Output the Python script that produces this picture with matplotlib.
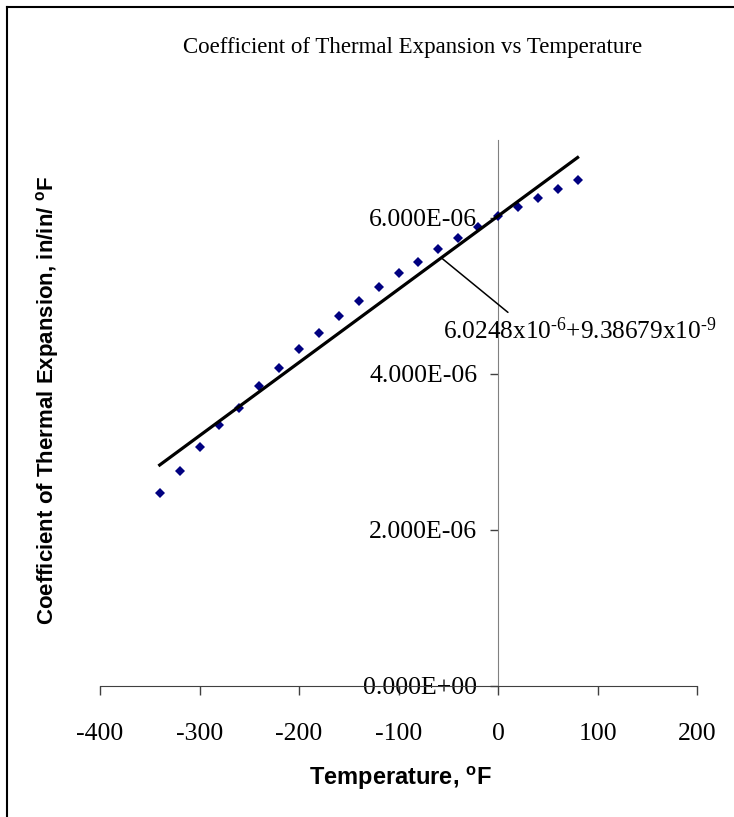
import numpy as np
import matplotlib
matplotlib.use("Agg")
import matplotlib.pyplot as plt
from matplotlib.lines import Line2D
from matplotlib.ticker import FuncFormatter

# ---- data ----
temperature = [-340, -320, -300, -280, -260, -240, -220, -200, -180, -160, -140,
               -120, -100, -80, -60, -40, -20, 0, 20, 40, 60, 80]
cte = [2.47e-6, 2.76e-6, 3.07e-6, 3.34e-6, 3.57e-6, 3.84e-6, 4.08e-6, 4.32e-6,
       4.53e-6, 4.74e-6, 4.93e-6, 5.11e-6, 5.30e-6, 5.44e-6, 5.60e-6, 5.745e-6,
       5.88e-6, 6.02e-6, 6.14e-6, 6.255e-6, 6.37e-6, 6.49e-6]
fit_intercept = 6.0248e-6
fit_slope = 9.38679e-9
x_ticks = [-400, -300, -200, -100, 0, 100, 200]
y_ticks = [0, 2e-6, 4e-6, 6e-6]
title = "Coefficient of Thermal Expansion vs Temperature"
xlabel = "Temperature, $^\\mathregular{o}$F"
ylabel = "Coefficient of Thermal Expansion, in/in/ $^\\mathregular{o}$F"
fit_label = "6.0248x10$^{\u20106}$+9.38679x10$^{\u20109}$"

plt.rcParams['mathtext.fontset'] = 'custom'
plt.rcParams['mathtext.rm'] = 'Liberation Serif'
plt.rcParams['mathtext.default'] = 'regular'
plt.rcParams['axes.unicode_minus'] = False

fig = plt.figure(figsize=(7.34, 8.17), dpi=100)
ax = fig.add_axes([100/734, (817-686)/817, 597/734, (686-140)/817])

serif = 'Liberation Serif'
sans = 'Liberation Sans'

ax.plot(temperature, cte, linestyle='none', marker='D', markersize=5.6,
        color='#000080', markeredgewidth=0, zorder=3)
fx = np.array([temperature[0], temperature[-1]])
ax.plot(fx, fit_intercept + fit_slope * fx, color='black', lw=2.3, zorder=4)

ax.set_xlim(-400, 200)
ax.set_ylim(0, 7e-6)
ax.set_xticks(x_ticks)
ax.set_yticks(y_ticks)
ax.yaxis.set_major_formatter(FuncFormatter(lambda v, p: "{:.3E}".format(v)))
ax.xaxis.set_major_formatter(FuncFormatter(lambda v, p: "{:d}".format(int(round(v)))))

for s in ['top', 'right']:
    ax.spines[s].set_visible(False)
ax.spines['left'].set_position(('data', 0))
ax.spines['left'].set_color('#808080')
ax.spines['bottom'].set_color('#404040')
ax.tick_params(axis='x', direction='out', length=6.5, width=1, color='#404040',
               pad=20, labelsize=18.5)
ax.tick_params(axis='y', direction='out', length=6, width=1, color='#404040',
               pad=9, labelsize=18.5)
for lab in ax.get_xticklabels() + ax.get_yticklabels():
    lab.set_fontfamily(serif)

# annotation for trend line
xa = -57
ax.annotate('', xy=(xa, fit_intercept + fit_slope * xa), xytext=(10, 4.79e-6),
            arrowprops=dict(arrowstyle='-', color='black', lw=1.1,
                            shrinkA=0, shrinkB=0), zorder=5)
ax.text(-55, 4.56e-6, fit_label, ha='left', va='center', fontsize=18.2,
        fontfamily=serif, zorder=5)

fig.text(413/734, 1 - 47/817, title, ha='center', va='center', fontsize=16.5,
         fontfamily=serif)
fig.text(400/734, 1 - 778/817, xlabel, ha='center', va='center', fontsize=17,
         fontfamily=sans, fontweight='bold')
fig.text(48/734, 1 - 400/817, ylabel, ha='center', va='center', fontsize=16,
         fontfamily=sans, fontweight='bold', rotation=90)

# chart border
fig.add_artist(Line2D([6.5/734, 6.5/734], [0, 1 - 7/817], transform=fig.transFigure,
                      color='black', lw=1.5))
fig.add_artist(Line2D([6.5/734, 733/734], [1 - 7/817, 1 - 7/817], transform=fig.transFigure,
                      color='black', lw=1.5))

fig.savefig('out.png', dpi=100)
